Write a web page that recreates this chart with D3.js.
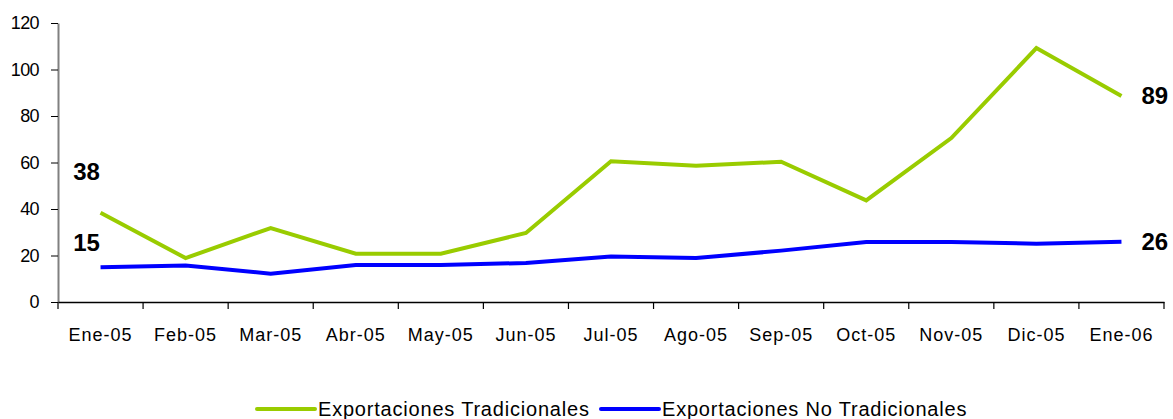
<!DOCTYPE html>
<html>
<head>
<meta charset="utf-8">
<script src="https://cdn.jsdelivr.net/npm/d3@7"></script>
<style>
    body { margin: 0; background: #fff; }
    text { font-family: Arial, "Liberation Sans", sans-serif; }
</style>
</head>
<body>
<script>
const width = 1173;
const height = 419;

// data
const months = ["Ene-05", "Feb-05", "Mar-05", "Abr-05", "May-05", "Jun-05", "Jul-05",
    "Ago-05", "Sep-05", "Oct-05", "Nov-05", "Dic-05", "Ene-06"];
const tradicionales = [38.4, 18.9, 31.8, 20.8, 20.8, 29.7, 60.5, 58.6, 60.3, 43.7, 70.5, 109.2, 88.6];
const noTradicionales = [14.9, 15.7, 12.2, 15.9, 15.9, 16.8, 19.6, 18.9, 22.1, 25.8, 25.8, 25.1, 25.9];
const yTicks = [0, 20, 40, 60, 80, 100, 120];
const seriesNames = ["Exportaciones Tradicionales", "Exportaciones No Tradicionales"];
const seriesColours = ["#99CC00", "#0000FF"];

const margin = { top: 23, right: 9, bottom: 117, left: 58 };

const svg = d3.select("body")
    .append("svg")
    .attr("width", width)
    .attr("height", height);

const x = d3.scaleBand()
    .domain(months)
    .range([margin.left, width - margin.right])
    .paddingInner(0)
    .paddingOuter(0);

const y = d3.scaleLinear()
    .domain([0, 120])
    .range([height - margin.bottom, margin.top]);

const cx = (d) => x(d) + x.bandwidth() / 2;

// y axis
const yAxis = svg.append("g")
    .attr("transform", `translate(${margin.left},0)`)
    .call(d3.axisLeft(y).tickValues(yTicks).tickSize(7).tickSizeOuter(0));
yAxis.select(".domain").attr("stroke", "#808080").attr("stroke-width", 2);
yAxis.selectAll(".tick line").attr("stroke", "#000");
yAxis.selectAll(".tick text")
    .attr("x", -19)
    .attr("font-size", "18px")
    .attr("letter-spacing", "-0.6px")
    .attr("fill", "#000");

// x axis (labels centred in bands, ticks on band edges)
const xAxis = svg.append("g")
    .attr("transform", `translate(0,${y(0)})`)
    .call(d3.axisBottom(x).tickSize(0).tickSizeOuter(0));
xAxis.select(".domain").attr("stroke", "#000").attr("stroke-width", 1.5);
xAxis.selectAll(".tick text")
    .attr("y", 39)
    .attr("dy", 0)
    .attr("font-size", "18px")
    .attr("letter-spacing", "1px")
    .attr("fill", "#000");

const edges = months.map((d) => x(d)).concat([x(months[months.length - 1]) + x.bandwidth()]);
xAxis.selectAll(".edge-tick")
    .data(edges)
    .enter()
    .append("line")
    .attr("class", "edge-tick")
    .attr("x1", (d) => d)
    .attr("x2", (d) => d)
    .attr("y1", 0)
    .attr("y2", 7)
    .attr("stroke", "#000")
    .attr("stroke-width", 1.2);

// lines
const line = d3.line()
    .x((d, i) => cx(months[i]))
    .y((d) => y(d));

[tradicionales, noTradicionales].forEach((series, k) => {
    svg.append("path")
        .datum(series)
        .attr("fill", "none")
        .attr("stroke", seriesColours[k])
        .attr("stroke-width", 4)
        .attr("stroke-linejoin", "miter")
        .attr("d", line);
});

// end labels
const fmt = d3.format(".0f");
const first = months[0];
const last = months[months.length - 1];
const labels = [
    { x: cx(first) - 14, y: y(tradicionales[0]) - 33, v: tradicionales[0], anchor: "middle" },
    { x: cx(first) - 14, y: y(noTradicionales[0]) - 16, v: noTradicionales[0], anchor: "middle" },
    { x: cx(last) + 20, y: y(tradicionales[12]) + 8, v: tradicionales[12], anchor: "start" },
    { x: cx(last) + 20, y: y(noTradicionales[12]) + 8, v: noTradicionales[12], anchor: "start" },
];
svg.selectAll(".end-label")
    .data(labels)
    .enter()
    .append("text")
    .attr("class", "end-label")
    .attr("x", (d) => d.x)
    .attr("y", (d) => d.y)
    .attr("text-anchor", (d) => d.anchor)
    .attr("font-size", "24px")
    .attr("font-weight", "bold")
    .attr("fill", "#000")
    .text((d) => fmt(d.v));

// legend
const legendX = [257, 601];
const legend = svg.selectAll(".legend-item")
    .data(seriesNames)
    .enter()
    .append("g")
    .attr("class", "legend-item")
    .attr("transform", (d, i) => `translate(${legendX[i]}, 409)`);

legend.append("line")
    .attr("x1", 0)
    .attr("x2", 58)
    .attr("y1", 0)
    .attr("y2", 0)
    .attr("stroke", (d, i) => seriesColours[i])
    .attr("stroke-width", 4)
    .attr("stroke-linecap", "round");

legend.append("text")
    .attr("x", 61)
    .attr("y", 7)
    .attr("font-size", "20px")
    .attr("letter-spacing", "0.8px")
    .attr("fill", "#000")
    .text((d) => d);
</script>
</body>
</html>
